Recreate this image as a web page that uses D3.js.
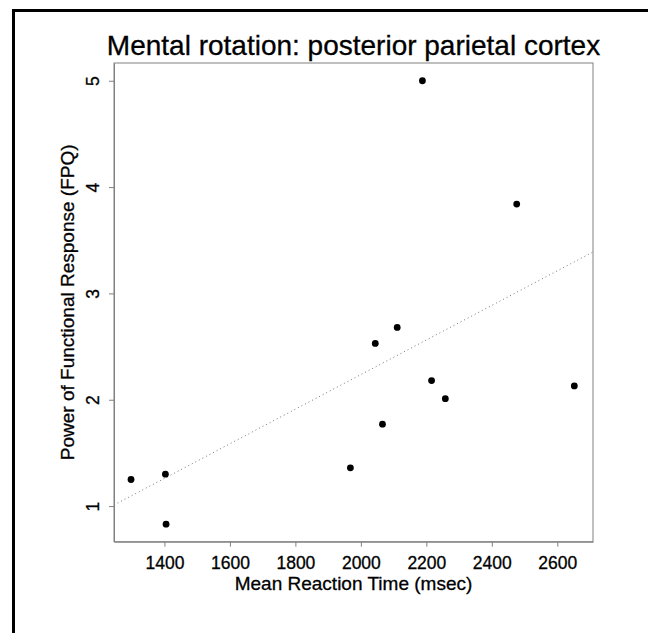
<!DOCTYPE html>
<html>
<head>
<meta charset="utf-8">
<script src="https://cdn.jsdelivr.net/npm/d3@7"></script>
<style>
  body { margin: 0; background: #fff; }
  text { font-family: "Liberation Sans", Arial, Helvetica, sans-serif; fill: #000; stroke: #000; stroke-width: 0.3px; }
</style>
</head>
<body>
<div id="chart"></div>
<script>
// mean reaction time (msec) and FPQ for each subject
var rtX  = [1298, 1403, 1405, 1968, 2044, 2066, 2111, 2188, 2216, 2258, 2476, 2652];
var fpqY = [1.25, 1.30, 0.83, 1.36, 2.53, 1.77, 2.68, 5.00, 2.18, 2.01, 3.84, 2.13];

// regression line, its two ends at the plot edges
var fitX = [1246, 2709];
var fitY = [1.01, 3.39];

var xTicks = [1400, 1600, 1800, 2000, 2200, 2400, 2600];
var yTicks = [1, 2, 3, 4, 5];

var w = 648, h = 633;
var padL = 114, padR = 593, padT = 63, padB = 541.7;

var svg = d3.select("#chart").append("svg")
    .attr("width", w)
    .attr("height", h);

// outer frame, only top and left sides show
svg.append("path")
    .attr("d", "M13.5," + h + "V10.5H" + w)
    .attr("fill", "none")
    .attr("stroke", "#000")
    .attr("stroke-width", 3);

var x = d3.scaleLinear().domain([1246, 2709]).range([padL, padR]);
var y = d3.scaleLinear().domain([0.665, 5.167]).range([padB, padT]);

// axes
var xAxis = svg.append("g")
    .attr("transform", "translate(0," + padB + ")")
    .call(d3.axisBottom(x).tickValues(xTicks).tickSize(5).tickSizeOuter(0).tickFormat(d3.format("d")));
var yAxis = svg.append("g")
    .attr("transform", "translate(" + padL + ",0)")
    .call(d3.axisLeft(y).tickValues(yTicks).tickSize(5).tickSizeOuter(0).tickFormat(d3.format("d")));

svg.selectAll(".domain").attr("stroke", "#808080");
svg.selectAll(".tick line").attr("stroke", "#808080");

xAxis.selectAll(".tick text")
    .attr("y", null).attr("dy", null)
    .attr("font-size", 17.5)
    .attr("text-anchor", "middle")
    .attr("transform", "translate(0,27)");

yAxis.selectAll(".tick text")
    .attr("x", null).attr("dy", null)
    .attr("font-size", 17.5)
    .attr("text-anchor", "middle")
    .attr("transform", "translate(-15,0) rotate(-90)");

// box round the plot
svg.append("rect")
    .attr("x", padL).attr("y", padT)
    .attr("width", padR - padL).attr("height", padB - padT)
    .attr("fill", "none")
    .attr("stroke", "#808080")
    .attr("stroke-width", 1);

// dotted fit line
var line = d3.line()
    .x(function(d) { return x(d[0]); })
    .y(function(d) { return y(d[1]); });
svg.append("path")
    .datum(d3.zip(fitX, fitY))
    .attr("d", line)
    .attr("fill", "none")
    .attr("stroke", "#777")
    .attr("stroke-width", 1)
    .attr("stroke-dasharray", "1,3");

// points
svg.selectAll("circle.pt")
    .data(d3.zip(rtX, fpqY))
    .enter()
    .append("circle")
    .attr("class", "pt")
    .attr("cx", function(d) { return x(d[0]); })
    .attr("cy", function(d) { return y(d[1]); })
    .attr("r", 3.4)
    .attr("fill", "#000");

// titles
svg.append("text")
    .attr("text-anchor", "middle")
    .attr("font-size", 28)
    .attr("x", (padL + padR) / 2)
    .attr("y", 55)
    .text("Mental rotation: posterior parietal cortex");

svg.append("text")
    .attr("text-anchor", "middle")
    .attr("font-size", 19)
    .attr("x", (padL + padR) / 2)
    .attr("y", 590)
    .text("Mean Reaction Time (msec)");

svg.append("text")
    .attr("text-anchor", "middle")
    .attr("font-size", 19)
    .attr("transform", "translate(74," + (padT + padB) / 2 + ") rotate(-90)")
    .text("Power of Functional Response (FPQ)");
</script>
</body>
</html>
